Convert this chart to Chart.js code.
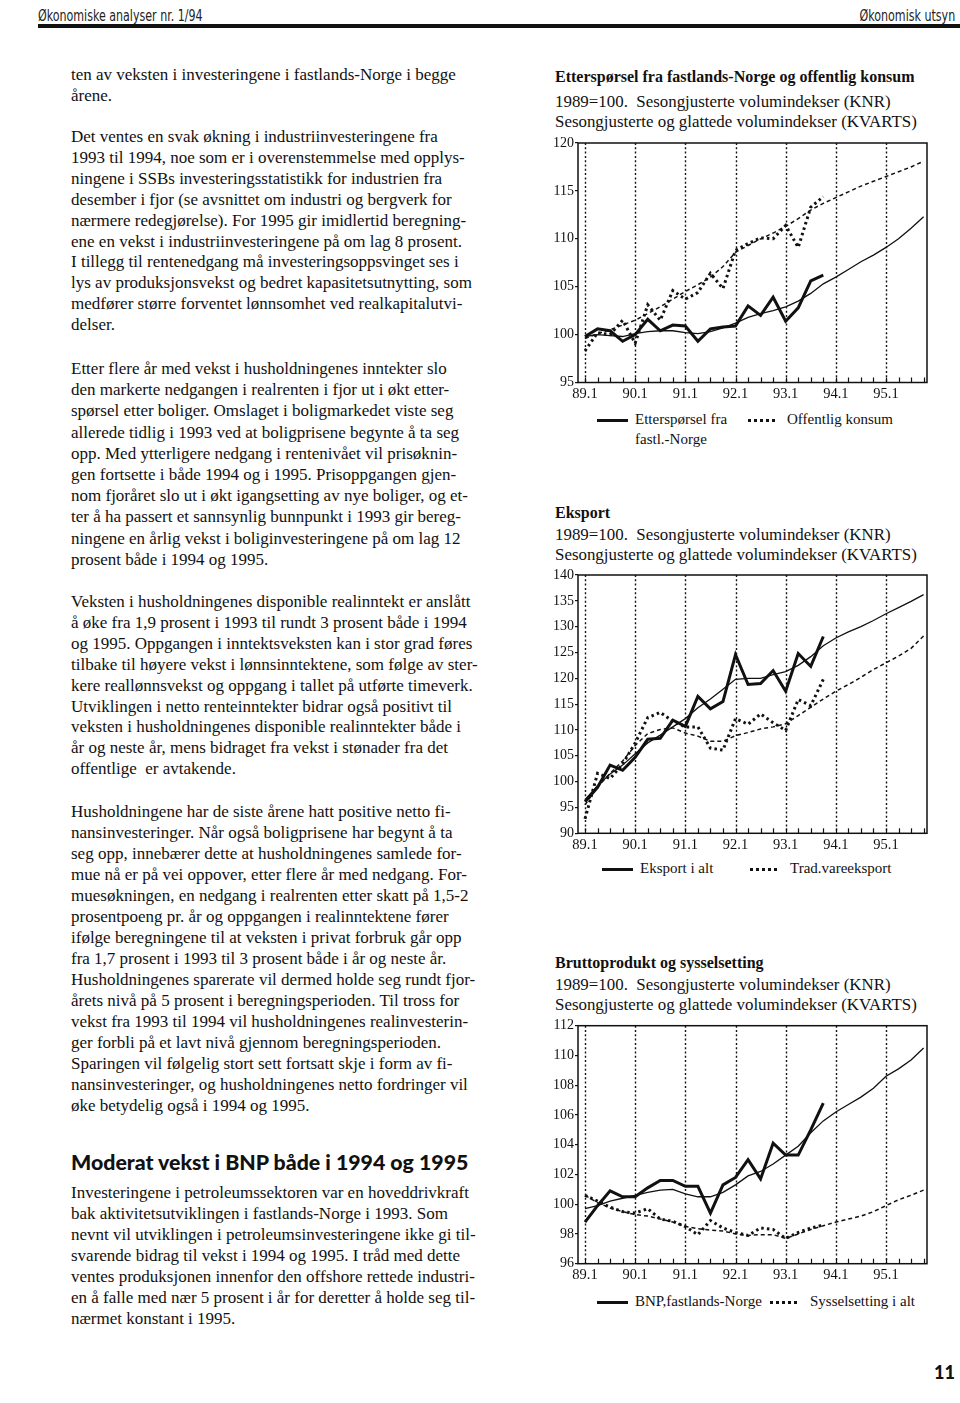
<!DOCTYPE html>
<html lang="no">
<head>
<meta charset="utf-8">
<title>Økonomisk utsyn</title>
<script src="https://cdn.jsdelivr.net/npm/chart.js@4.4.1/dist/chart.umd.min.js"></script>
<style>
  html, body { margin: 0; padding: 0; background: #fff; }
  body { width: 960px; height: 1403px; position: relative; overflow: hidden;
         font-family: "Liberation Serif", "Times New Roman", serif; color: #111; }
  .abs { position: absolute; white-space: nowrap; }
  .hdr { font-family: "Liberation Sans Narrow", "DejaVu Sans Condensed", "Liberation Sans", sans-serif;
         font-size: 16px; top: 6px; color: #222; transform: scaleX(0.77); }
  .rule { position: absolute; left: 38px; right: 0; top: 24px; height: 4px; background: #111; }
  .txt { left: 71px; font-size: 17px; line-height: 21px; }
  .h2 { left: 71px; font-family: Lato, "Open Sans", sans-serif; font-weight: 900; font-size: 21.3px; line-height: 24px; }
  .ctitle { left: 555px; font-weight: bold; font-size: 16px; line-height: 19.5px; }
  .csub { left: 555px; font-size: 16.9px; line-height: 19.5px; }
  .leg { font-size: 15px; line-height: 20px; }
  .sample { position: absolute; height: 3px; background: #111; }
  .sample.dot { background: repeating-linear-gradient(90deg, #111 0 3px, transparent 3px 6px); }
  .pnum { right: 5px; top: 1361px; font-family: Lato, "Open Sans", sans-serif; font-weight: 900; font-size: 18px; }
  canvas { position: absolute; }
</style>
</head>
<body>

<!-- ── Topptekst ─────────────────────────────────────────────── -->
<div class="abs hdr" style="left:38px; transform-origin:left top">Økonomiske analyser nr. 1/94</div>
<div class="abs hdr" style="right:5px; transform-origin:right top">Økonomisk utsyn</div>
<div class="rule"></div>

<!-- ── Venstre spalte ────────────────────────────────────────── -->
<div class="abs txt" style="top:64px">ten av veksten i investeringene i fastlands-Norge i begge<br>årene.</div>

<div class="abs txt" style="top:127px; line-height:20.9px">Det ventes en svak økning i industriinvesteringene fra<br>1993 til 1994, noe som er i overenstemmelse med opplys-<br>ningene i SSBs investeringsstatistikk for industrien fra<br>desember i fjor (se avsnittet om industri og bergverk for<br>nærmere redegjørelse). For 1995 gir imidlertid beregning-<br>ene en vekst i industriinvesteringene på om lag 8 prosent.<br>I tillegg til rentenedgang må investeringsoppsvinget ses i<br>lys av produksjonsvekst og bedret kapasitetsutnytting, som<br>medfører større forventet lønnsomhet ved realkapitalutvi-<br>delser.</div>

<div class="abs txt" style="top:358px; line-height:21.2px">Etter flere år med vekst i husholdningenes inntekter slo<br>den markerte nedgangen i realrenten i fjor ut i økt etter-<br>spørsel etter boliger. Omslaget i boligmarkedet viste seg<br>allerede tidlig i 1993 ved at boligprisene begynte å ta seg<br>opp. Med ytterligere nedgang i rentenivået vil prisøknin-<br>gen fortsette i både 1994 og i 1995. Prisoppgangen gjen-<br>nom fjoråret slo ut i økt igangsetting av nye boliger, og et-<br>ter å ha passert et sannsynlig bunnpunkt i 1993 gir bereg-<br>ningene en årlig vekst i boliginvesteringene på om lag 12<br>prosent både i 1994 og 1995.</div>

<div class="abs txt" style="top:592px; line-height:20.9px">Veksten i husholdningenes disponible realinntekt er anslått<br>å øke fra 1,9 prosent i 1993 til rundt 3 prosent både i 1994<br>og 1995. Oppgangen i inntektsveksten kan i stor grad føres<br>tilbake til høyere vekst i lønnsinntektene, som følge av ster-<br>kere reallønnsvekst og oppgang i tallet på utførte timeverk.<br>Utviklingen i netto renteinntekter bidrar også positivt til<br>veksten i husholdningenes disponible realinntekter både i<br>år og neste år, mens bidraget fra vekst i stønader fra det<br>offentlige&nbsp; er avtakende.</div>

<div class="abs txt" style="top:801px">Husholdningene har de siste årene hatt positive netto fi-<br>nansinvesteringer. Når også boligprisene har begynt å ta<br>seg opp, innebærer dette at husholdningenes samlede for-<br>mue nå er på vei oppover, etter flere år med nedgang. For-<br>muesøkningen, en nedgang i realrenten etter skatt på 1,5-2<br>prosentpoeng pr. år og oppgangen i realinntektene fører<br>ifølge beregningene til at veksten i privat forbruk går opp<br>fra 1,7 prosent i 1993 til 3 prosent både i år og neste år.<br>Husholdningenes sparerate vil dermed holde seg rundt fjor-<br>årets nivå på 5 prosent i beregningsperioden. Til tross for<br>vekst fra 1993 til 1994 vil husholdningenes realinvesterin-<br>ger forbli på et lavt nivå gjennom beregningsperioden.<br>Sparingen vil følgelig stort sett fortsatt skje i form av fi-<br>nansinvesteringer, og husholdningenes netto fordringer vil<br>øke betydelig også i 1994 og 1995.</div>

<div class="abs h2" style="top:1150px">Moderat vekst i BNP både i 1994 og 1995</div>

<div class="abs txt" style="top:1182px; line-height:21px">Investeringene i petroleumssektoren var en hoveddrivkraft<br>bak aktivitetsutviklingen i fastlands-Norge i 1993. Som<br>nevnt vil utviklingen i petroleumsinvesteringene ikke gi til-<br>svarende bidrag til vekst i 1994 og 1995. I tråd med dette<br>ventes produksjonen innenfor den offshore rettede industri-<br>en å falle med nær 5 prosent i år for deretter å holde seg til-<br>nærmet konstant i 1995.</div>

<!-- ── Figur 1 ───────────────────────────────────────────────── -->
<div class="abs ctitle" style="top:67px">Etterspørsel fra fastlands-Norge og offentlig konsum</div>
<div class="abs csub" style="top:92px">1989=100.&nbsp; Sesongjusterte volumindekser (KNR)<br>Sesongjusterte og glattede volumindekser (KVARTS)</div>
<canvas id="fig1" width="400" height="275" style="left:540px; top:130px"></canvas>
<div class="sample" style="left:597px; top:419px; width:31px"></div>
<div class="abs leg" style="left:635px; top:409px">Etterspørsel fra<br>fastl.-Norge</div>
<div class="sample dot" style="left:748px; top:419px; width:30px"></div>
<div class="abs leg" style="left:787px; top:409px">Offentlig konsum</div>

<!-- ── Figur 2 ───────────────────────────────────────────────── -->
<div class="abs ctitle" style="top:503px">Eksport</div>
<div class="abs csub" style="top:525px">1989=100.&nbsp; Sesongjusterte volumindekser (KNR)<br>Sesongjusterte og glattede volumindekser (KVARTS)</div>
<canvas id="fig2" width="400" height="293" style="left:540px; top:562px"></canvas>
<div class="sample" style="left:602px; top:868px; width:31px"></div>
<div class="abs leg" style="left:640px; top:858px">Eksport i alt</div>
<div class="sample dot" style="left:750px; top:868px; width:28px"></div>
<div class="abs leg" style="left:790px; top:858px">Trad.vareeksport</div>

<!-- ── Figur 3 ───────────────────────────────────────────────── -->
<div class="abs ctitle" style="top:953px">Bruttoprodukt og sysselsetting</div>
<div class="abs csub" style="top:975px">1989=100.&nbsp; Sesongjusterte volumindekser (KNR)<br>Sesongjusterte og glattede volumindekser (KVARTS)</div>
<canvas id="fig3" width="400" height="273" style="left:540px; top:1013px"></canvas>
<div class="sample" style="left:597px; top:1301px; width:31px"></div>
<div class="abs leg" style="left:635px; top:1291px">BNP,fastlands-Norge</div>
<div class="sample dot" style="left:770px; top:1301px; width:28px"></div>
<div class="abs leg" style="left:810px; top:1291px">Sysselsetting i alt</div>

<div class="abs pnum">11</div>

<script>
// ── Kvartaler og akse-etiketter ──────────────────────────────────────────────
const kvartaler = ["89.1","89.2","89.3","89.4","90.1","90.2","90.3","90.4",
                   "91.1","91.2","91.3","91.4","92.1","92.2","92.3","92.4",
                   "93.1","93.2","93.3","93.4","94.1","94.2","94.3","94.4",
                   "95.1","95.2","95.3","95.4"];
const aarsIdx = [0, 4, 8, 12, 16, 20, 24];   // 89.1 ... 95.1

// ── Figur 1: etterspørsel og offentlig konsum ────────────────────────────────
const ettersporselKnr   = [99.8, 100.6, 100.4, 99.3, 100.0, 101.6, 100.4, 101.0, 100.9, 99.3,
                           100.6, 100.8, 100.9, 103.0, 102.0, 103.9, 101.4, 102.8, 105.6, 106.2];
const ettersporselKvarts = [99.8, 100.0, 99.9, 99.8, 100.1, 100.3, 100.4, 100.4, 100.2, 100.1,
                           100.3, 100.7, 101.2, 101.8, 102.2, 102.5, 102.9, 103.5, 104.3, 105.3,
                           106.0, 106.8, 107.6, 108.3, 109.1, 110.0, 111.1, 112.3];
const offentligKnr      = [98.3, 100.2, 100.0, 101.5, 99.1, 103.1, 101.5, 104.6, 103.7, 104.4,
                           106.4, 104.8, 108.8, 109.5, 110.1, 110.0, 111.4, 109.1, 113.3, 114.4];
const offentligKvarts   = [99.6, 100.1, 100.5, 101.0, 101.5, 102.2, 102.9, 103.7, 104.5, 105.2,
                           106.0, 107.1, 108.6, 109.3, 110.0, 110.6, 111.3, 112.1, 113.0, 113.7,
                           114.3, 114.9, 115.5, 116.0, 116.5, 117.0, 117.5, 118.1];

// ── Figur 2: eksport ─────────────────────────────────────────────────────────
const eksportKnr    = [96.1, 98.9, 103.2, 102.2, 104.7, 108.2, 108.4, 111.9, 110.7, 116.5,
                       114.1, 115.5, 124.6, 118.8, 119.0, 121.5, 117.5, 124.8, 122.3, 128.1];
const eksportKvarts = [96.5, 99.2, 101.5, 103.2, 105.4, 107.5, 109.0, 110.6, 112.2, 114.3,
                       116.0, 117.9, 119.8, 120.0, 120.0, 120.7, 121.3, 122.5, 124.2, 126.3,
                       127.8, 129.0, 130.0, 131.2, 132.5, 133.7, 134.9, 136.2];
const tradKnr       = [92.8, 101.6, 100.6, 103.4, 107.5, 112.4, 113.4, 111.7, 110.6, 110.6,
                       106.5, 106.1, 112.2, 111.1, 113.1, 111.4, 109.9, 115.9, 114.7, 119.8];
const tradKvarts    = [95.5, 99.0, 101.6, 104.0, 107.0, 109.3, 110.1, 110.4, 109.4, 108.8,
                       107.8, 107.8, 108.9, 109.5, 110.2, 110.6, 111.2, 112.8, 114.4, 116.0,
                       117.5, 118.8, 120.2, 121.7, 123.0, 124.3, 125.8, 128.2];

// ── Figur 3: BNP og sysselsetting ────────────────────────────────────────────
const bnpKnr     = [98.8, 99.9, 100.9, 100.5, 100.5, 101.1, 101.6, 101.6, 101.2, 101.2,
                    99.4, 101.3, 101.8, 103.0, 101.7, 104.1, 103.3, 103.3, 105.0, 106.8];
const bnpKvarts  = [99.7, 99.9, 100.2, 100.4, 100.6, 100.8, 100.95, 101.0, 100.7, 100.5,
                    100.5, 100.8, 101.3, 101.9, 102.2, 102.7, 103.3, 103.9, 104.8, 105.6,
                    106.2, 106.7, 107.2, 107.8, 108.6, 109.1, 109.7, 110.5];
const syssKnr    = [100.6, 100.2, 99.8, 99.5, 99.4, 99.7, 99.0, 98.85, 98.5, 97.95,
                    98.9, 98.4, 98.1, 97.9, 98.4, 98.3, 97.7, 98.1, 98.4, 98.6];
const syssKvarts = [100.6, 100.1, 99.75, 99.5, 99.3, 99.2, 99.0, 98.8, 98.5, 98.35,
                    98.25, 98.2, 98.0, 97.9, 97.95, 97.95, 97.7, 98.0, 98.3, 98.55,
                    98.8, 99.0, 99.2, 99.5, 99.9, 100.3, 100.6, 100.95];

// ── Hjelpere ─────────────────────────────────────────────────────────────────
const SVART = "#111";
const tilXY = arr => arr.map((v, i) => ({ x: i, y: v }));

const stiler = {
  tykk:    { borderWidth: 3,   borderDash: [] },
  tynn:    { borderWidth: 1.3, borderDash: [] },
  prikk:   { borderWidth: 3,   borderDash: [2.5, 3.2] },
  strek:   { borderWidth: 1.5, borderDash: [4, 3] }
};

// vertikale prikkede årslinjer, ramme og kvartalsmerker
const rammePlugin = {
  id: "ramme",
  beforeDatasetsDraw(chart) {
    const { ctx, chartArea: a, scales: { x } } = chart;
    ctx.save();
    ctx.strokeStyle = SVART;
    ctx.lineWidth = 1.4;
    ctx.setLineDash([2, 2.3]);
    aarsIdx.forEach(i => {
      const px = Math.round(x.getPixelForValue(i)) + 0.5;
      ctx.beginPath(); ctx.moveTo(px, a.top); ctx.lineTo(px, a.bottom); ctx.stroke();
    });
    ctx.restore();
  },
  afterDatasetsDraw(chart) {
    const { ctx, chartArea: a, scales: { x } } = chart;
    ctx.save();
    ctx.strokeStyle = SVART;
    ctx.lineWidth = 1.5;
    ctx.strokeRect(a.left, a.top, a.right - a.left, a.bottom - a.top);
    ctx.lineWidth = 1.2;
    kvartaler.forEach((_, i) => {
      const px = Math.round(x.getPixelForValue(i)) + 0.5;
      ctx.beginPath(); ctx.moveTo(px, a.bottom); ctx.lineTo(px, a.bottom - 5); ctx.stroke();
    });
    ctx.restore();
  }
};

function lagFigur(id, { yMin, yMax, yStep, xMin, xMax, padTop, padRight, xHoyde, serier }) {
  return new Chart(document.getElementById(id), {
    type: "line",
    data: {
      datasets: serier.map(s => ({
        data: tilXY(s.data),
        borderColor: SVART,
        backgroundColor: "transparent",
        fill: false,
        tension: 0,
        pointRadius: 0,
        borderCapStyle: "butt",
        ...stiler[s.stil]
      }))
    },
    options: {
      responsive: false,
      animation: false,
      devicePixelRatio: 1,
      layout: { padding: { top: padTop, right: padRight, left: 0, bottom: 0 } },
      plugins: { legend: { display: false }, tooltip: { enabled: false } },
      scales: {
        x: {
          type: "linear",
          min: xMin, max: xMax,
          grid: { display: false, drawTicks: false },
          border: { display: false },
          afterBuildTicks: sc => { sc.ticks = aarsIdx.map(v => ({ value: v })); },
          afterFit: sc => { sc.height = xHoyde; },
          ticks: {
            autoSkip: false, maxRotation: 0, padding: 3,
            color: SVART,
            font: { family: "Liberation Serif", size: 14.5 },
            callback: v => kvartaler[v]
          }
        },
        y: {
          min: yMin, max: yMax,
          grid: { drawOnChartArea: false, drawTicks: true, tickLength: 3, color: SVART, lineWidth: 1.2 },
          border: { display: false },
          afterFit: sc => { sc.width = 38; },
          ticks: {
            stepSize: yStep, padding: 1,
            color: SVART,
            font: { family: "Liberation Serif", size: 14 }
          }
        }
      }
    },
    plugins: [rammePlugin]
  });
}

lagFigur("fig1", {
  yMin: 95, yMax: 120, yStep: 5, xMin: -0.56, xMax: 27.27,
  padTop: 13, padRight: 13, xHoyde: 22.5,
  serier: [
    { data: offentligKvarts,    stil: "strek" },
    { data: offentligKnr,       stil: "prikk" },
    { data: ettersporselKvarts, stil: "tynn" },
    { data: ettersporselKnr,    stil: "tykk" }
  ]
});

lagFigur("fig2", {
  yMin: 90, yMax: 140, yStep: 5, xMin: -0.56, xMax: 27.27,
  padTop: 13, padRight: 13, xHoyde: 21.7,
  serier: [
    { data: tradKvarts,    stil: "strek" },
    { data: tradKnr,       stil: "prikk" },
    { data: eksportKvarts, stil: "tynn" },
    { data: eksportKnr,    stil: "tykk" }
  ]
});

lagFigur("fig3", {
  yMin: 96, yMax: 112, yStep: 2, xMin: -0.56, xMax: 27.27,
  padTop: 12.7, padRight: 13, xHoyde: 22.3,
  serier: [
    { data: syssKvarts, stil: "strek" },
    { data: syssKnr,    stil: "prikk" },
    { data: bnpKvarts,  stil: "tynn" },
    { data: bnpKnr,     stil: "tykk" }
  ]
});
</script>
</body>
</html>
